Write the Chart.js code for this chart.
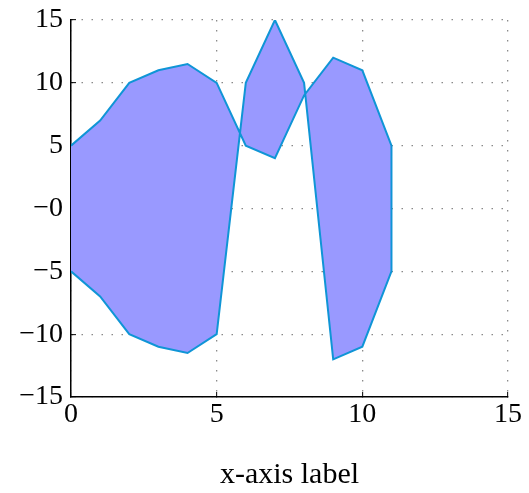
<!DOCTYPE html>
<html>
<head>
<meta charset="utf-8">
<script src="https://cdn.jsdelivr.net/npm/chart.js@4.4.1/dist/chart.umd.min.js"></script>
<style>
  html, body { margin: 0; padding: 0; background: #fff; }
</style>
</head>
<body>
<canvas id="chart" width="529" height="493"></canvas>
<script>
// polygon outline, walked along the top then back along the bottom
const xValues = [0, 1, 2, 3, 4, 5, 6, 7, 8, 9, 10, 11, 11, 10, 9, 8, 7, 6, 5, 4, 3, 2, 1, 0];
const yValues = [5, 7, 10, 11, 11.5, 10, 5, 4, 9, 12, 11, 5, -5, -11, -12, 10, 15, 10, -10, -11.5, -11, -10, -7, -5];

const xTickLabels = ["0", "5", "10", "15"];
const yTickLabels = ["\u221215", "\u221210", "\u22125", "\u22120", "5", "10", "15"];
const xAxisTitle = "x-axis label";

Chart.defaults.font.family = "'Liberation Serif', 'Times New Roman', serif";
Chart.defaults.font.size = 28;
Chart.defaults.color = "#000";

const points = xValues.map((x, i) => ({ x, y: yValues[i] }));

const gridStyle = {
  color: "#8a8a8a",
  lineWidth: 1.3,
  tickLength: -5,
  tickColor: "#000",
  tickWidth: 1,
  tickBorderDash: [],
};

const ctx = document.getElementById("chart");
// eslint-disable-next-line no-unused-vars
const chart = new Chart(ctx, {
  type: "scatter",
  data: {
    datasets: [
      {
        data: points,
        showLine: true,
        borderColor: "#0f95d6",
        backgroundColor: "#9999ff",
        borderWidth: 2,
        pointRadius: 0,
        pointHoverRadius: 0,
        fill: "shape",
        tension: 0,
      },
    ],
  },
  options: {
    responsive: false,
    animation: false,
    layout: {
      padding: { top: 20, right: 21, left: 0, bottom: 0 },
    },
    plugins: {
      legend: { display: false },
      tooltip: { enabled: false },
    },
    scales: {
      x: {
        type: "linear",
        min: 0,
        max: 15,
        grid: gridStyle,
        border: { display: true, color: "#000", width: 1.5, dash: [1.5, 8.5] },
        ticks: {
          stepSize: 5,
          padding: 6,
          maxRotation: 0,
          callback: (v, i) => xTickLabels[i],
        },
        title: {
          display: true,
          text: xAxisTitle,
          font: { size: 30 },
          padding: { top: 0, bottom: 0 },
        },
        afterFit: (scale) => {
          scale.height = 96;
          scale.paddingLeft = 0;
          scale.paddingRight = 0;
        },
      },
      y: {
        type: "linear",
        min: -15,
        max: 15,
        grid: gridStyle,
        border: { display: true, color: "#000", width: 1.5, dash: [1.5, 8.5] },
        ticks: {
          stepSize: 5,
          padding: 13,
          callback: (v, i) => yTickLabels[i],
        },
        afterFit: (scale) => {
          scale.width = 71;
          scale.paddingTop = 0;
          scale.paddingBottom = 0;
        },
      },
    },
  },
});
</script>
</body>
</html>
